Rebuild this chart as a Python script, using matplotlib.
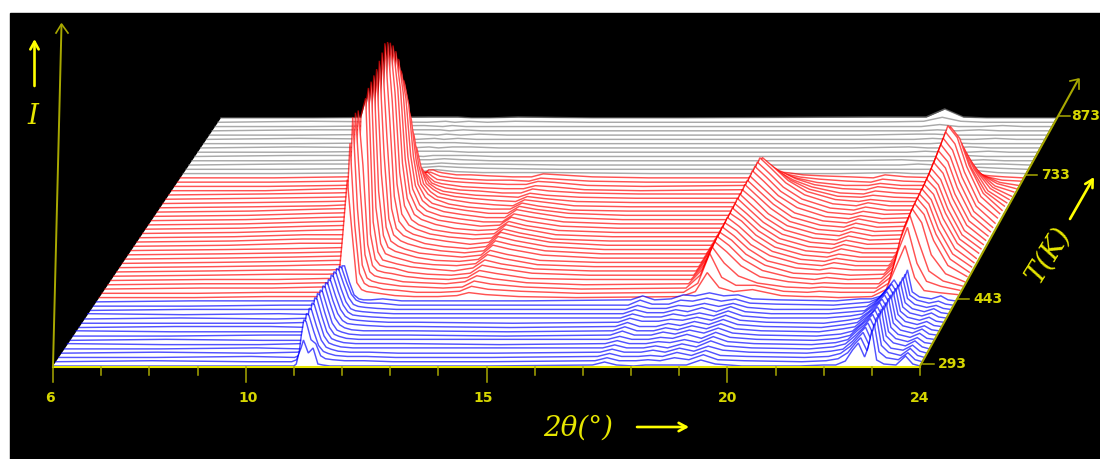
import matplotlib
matplotlib.use('Agg')
import matplotlib.pyplot as plt
from matplotlib.patches import Polygon, Rectangle

# heights in pixels above each trace's baseline
blue_theta = [6, 8, 10, 10.9, 11.0, 11.05, 11.1, 11.15, 11.2, 11.3, 11.4, 11.5, 11.6, 11.75, 12.0, 12.4, 13,
              15, 17.2, 17.45, 17.7, 18.05, 18.3, 18.55, 18.85, 19.15, 19.45, 19.75, 20.3,
              21.5, 22.0, 22.25, 22.45, 22.6, 22.72, 22.85, 22.92, 23.0, 23.1, 23.25, 23.5, 23.7, 23.85, 24]
blue_temps = [293, 303, 313, 323, 333, 343, 353, 363, 373, 383, 393, 403, 413, 423, 433, 443]
blue_traces = [
    [0,0,0,0, 0,2,12,18,26,13,18,2,1,0,0,0,0, 0,1,4,1, 0,1,1,1,1,6,2,0, 0,1,1,5,16,23,9,18,36,6,2,1,10,2,0],
    [0,1,0,0, 2,8,27,42,40,22,18,6,3,2,1,1,0, 0,1,4,1, 1,2,1,4,2,7,2,1, 0,1,3,9,18,24,11,22,38,10,4,2,9,2,0],
    [0,0,1,0, 2,9,29,44,42,26,12,6,4,2,1,1,0, 0,1,4,1, 1,2,1,5,2,7,2,1, 0,1,4,11,19,25,12,24,40,12,5,2,9,2,0],
    [0,1,0,1, 2,9,29,45,43,27,13,6,4,2,1,1,0, 0,1,4,1, 1,3,1,5,2,7,3,1, 0,2,4,12,20,26,12,24,40,13,5,3,8,2,0],
    [0,0,1,0, 2,9,30,46,44,28,13,6,4,2,1,1,1, 1,1,4,1, 1,3,1,5,2,8,3,1, 0,2,5,13,20,26,13,24,40,13,6,3,8,2,0],
    [1,0,0,1, 2,9,31,47,45,28,13,6,4,2,1,1,1, 0,1,4,1, 1,3,2,5,2,8,3,1, 0,2,5,14,20,26,13,24,39,13,6,3,7,2,1],
    [0,1,0,0, 2,9,31,47,45,28,13,6,4,2,1,1,1, 1,1,4,1, 1,3,2,6,2,8,3,1, 0,2,5,14,20,26,13,24,38,13,6,3,7,2,1],
    [0,0,1,1, 2,9,30,46,44,28,13,6,4,2,1,1,1, 0,1,5,1, 1,4,2,6,3,8,3,1, 0,2,5,13,20,26,13,24,38,13,6,3,7,2,1],
    [1,0,0,0, 2,9,30,46,44,28,14,7,4,2,1,1,1, 0,1,5,1, 1,4,2,6,3,8,3,1, 0,3,5,13,19,25,13,24,37,13,6,3,6,2,1],
    [0,1,1,0, 2,9,29,45,43,27,14,7,4,3,2,1,1, 0,1,5,1, 1,4,2,6,3,8,3,1, 0,3,5,13,19,25,13,23,36,13,6,3,6,2,1],
    [0,0,0,1, 2,9,29,44,42,27,14,7,4,3,2,1,1, 0,1,5,2, 2,4,3,6,3,8,3,1, 0,3,5,12,19,24,13,23,35,12,6,3,6,2,1],
    [0,1,0,1, 2,9,29,44,42,27,14,7,4,3,2,1,1, 1,1,5,2, 2,5,3,6,3,8,3,1, 1,3,5,12,18,24,13,22,34,12,6,3,6,2,1],
    [1,0,1,0, 2,9,28,43,41,26,13,6,4,3,2,1,1, 1,1,5,2, 2,5,3,7,3,8,3,1, 1,3,4,11,18,23,12,22,33,12,6,3,6,2,1],
    [0,1,1,1, 2,8,27,42,40,26,13,6,4,3,2,1,1, 1,1,5,2, 2,5,4,7,4,7,3,1, 1,3,4,10,17,23,12,22,33,12,6,3,5,2,1],
    [0,0,1,1, 2,8,26,40,38,24,12,6,4,3,3,1,1, 1,1,6,2, 2,6,5,8,5,7,3,2, 1,3,4,8,16,22,12,21,32,11,6,3,5,2,1],
    [0,1,1,1, 2,7,23,36,36,20,7,3,2,2,3,1,1, 1,2,6,2, 3,7,6,9,6,7,3,2, 1,3,3,6,15,22,12,21,32,10,5,3,6,2,1],
]

red_theta = [6, 8, 9.5, 10.5, 10.9, 11.0, 11.1, 11.2, 11.3, 11.4, 11.5, 11.6, 11.75, 11.9, 12.2, 12.6, 13.1,
             13.5, 13.75, 14.1, 14.8, 16, 18.2, 18.5, 18.75, 19.0, 19.3, 19.7, 20.3, 20.8, 21.05, 21.5,
             22.2, 22.5, 22.7, 22.9, 23.1, 23.3, 23.6, 24]
red_temps = [453, 463, 473, 483, 493, 503, 513, 523, 533, 543, 553, 563, 573, 583, 593,
             603, 613, 623, 633, 643, 653, 663, 673, 683, 693, 703, 713, 723, 733]
red_traces = [
    [0,0,1,1,1, 8,60,118,65,15,8,6,5,4,2,1,1, 2,5,3,1,0, 1,6,25,10,6,8,2,1,1,0, 1,8,30,52,20,7,5,3],
    [0,0,1,1,1, 6,55,150,68,20,10,7,6,4,3,1,1, 2,7,4,2,0, 1,10,40,16,8,8,2,1,2,1, 1,10,42,66,30,12,7,3],
    [0,1,1,2,2, 5,50,172,80,24,11,8,6,5,3,2,1, 2,8,5,2,0, 1,14,42,26,13,6,2,1,2,1, 1,12,50,74,45,18,8,3],
    [0,1,1,2,2, 4,45,172,95,30,13,9,7,6,3,2,1, 3,9,6,2,0, 1,16,43,33,19,8,3,1,2,1, 1,14,54,76,62,30,11,3],
    [0,1,1,2,2, 4,40,170,115,36,15,10,8,7,4,2,1, 3,10,7,2,1, 1,17,44,35,21,10,3,1,3,1, 2,15,55,77,66,40,15,4],
    [0,1,2,2,3, 3,32,160,178,42,17,11,9,8,4,2,1, 3,11,8,3,1, 1,18,44,36,22,11,3,2,3,1, 2,16,56,78,67,42,17,4],
    [0,1,2,2,3, 3,28,150,184,50,20,12,10,8,5,3,1, 4,12,8,3,1, 1,18,45,36,23,11,4,2,4,2, 2,16,56,78,68,43,18,5],
    [0,1,2,3,3, 3,25,130,186,60,24,14,11,9,5,3,2, 4,13,9,3,1, 1,19,45,37,23,12,4,2,5,2, 2,16,57,79,68,44,19,5],
    [0,1,2,3,3, 3,22,110,188,72,28,16,12,10,6,3,2, 4,13,9,3,1, 1,19,46,37,24,12,4,2,5,2, 2,17,57,79,69,45,20,5],
    [0,1,2,3,4, 2,18,90,190,85,32,18,13,10,6,4,2, 4,14,10,4,1, 1,20,46,38,24,12,4,2,5,2, 2,17,58,80,70,46,20,6],
    [0,1,2,3,4, 2,15,75,194,100,36,20,14,11,7,4,2, 4,14,10,4,1, 1,19,47,37,24,12,4,2,6,2, 2,16,58,81,70,46,20,6],
    [0,1,2,3,4, 2,12,60,198,115,42,22,15,12,7,4,2, 4,14,10,4,1, 1,19,47,37,24,12,4,2,6,2, 2,16,59,82,71,47,20,6],
    [0,1,3,3,4, 2,10,50,203,130,50,25,16,12,8,5,2, 4,14,10,4,1, 1,19,48,37,24,12,4,2,6,2, 3,17,60,84,73,48,21,6],
    [0,1,3,3,4, 2,10,45,200,140,58,28,17,13,8,5,3, 4,13,9,3,1, 1,19,48,37,24,12,4,2,6,2, 3,17,61,85,74,48,21,6],
    [0,1,3,3,4, 2,9,40,195,145,65,32,18,13,8,5,3, 4,13,9,3,1, 1,19,48,38,24,12,4,2,6,2, 3,17,63,87,76,50,22,6],
    [0,1,3,4,5, 2,8,35,188,145,70,35,19,14,9,5,3, 4,12,8,3,1, 1,20,49,38,25,12,4,2,6,2, 3,18,64,89,77,51,22,6],
    [0,1,3,4,5, 2,7,30,178,140,70,36,20,14,9,6,3, 4,12,8,3,1, 1,20,49,38,25,12,4,2,6,2, 3,18,66,91,79,52,23,6],
    [0,1,3,4,5, 2,6,25,166,132,68,36,20,14,9,6,3, 3,11,8,3,1, 1,20,49,38,25,12,4,2,6,2, 3,19,67,93,81,53,23,7],
    [0,1,3,4,5, 2,6,22,150,122,65,35,20,14,9,6,3, 3,11,8,3,1, 1,20,50,39,25,13,4,2,5,2, 3,19,68,95,83,54,24,7],
    [0,1,3,4,5, 1,5,20,136,112,60,32,19,13,9,6,3, 3,10,7,3,1, 1,20,50,39,25,13,4,2,5,2, 3,18,65,90,78,51,23,6],
    [0,1,3,4,5, 1,4,16,112,92,52,28,18,13,8,5,3, 3,9,6,2,1, 1,20,50,39,25,13,4,2,5,2, 2,16,56,78,68,44,20,6],
    [0,1,2,4,5, 1,4,14,86,72,42,24,16,11,8,5,3, 2,8,6,2,1, 1,20,50,39,25,13,4,2,5,2, 2,14,50,68,59,39,17,5],
    [0,1,2,3,4, 1,3,10,62,55,34,20,14,10,7,5,3, 2,7,5,2,1, 1,18,46,36,23,12,4,2,4,2, 2,12,42,58,50,33,15,4],
    [0,1,2,3,4, 1,2,8,36,34,24,16,11,8,6,4,3, 2,6,4,2,1, 1,15,38,30,19,10,3,2,4,2, 1,9,34,47,41,27,12,3],
    [0,1,2,3,3, 1,2,6,26,26,18,12,9,7,5,4,2, 2,6,4,2,1, 1,12,30,23,15,8,2,1,4,2, 1,7,27,37,32,21,9,3],
    [0,0,2,2,3, 1,1,5,18,18,13,9,7,6,4,3,2, 2,5,4,1,0, 1,10,24,19,12,6,2,1,4,2, 1,5,19,26,23,15,7,2],
    [0,0,1,2,2, 1,1,4,14,14,10,7,6,5,4,3,2, 2,5,4,1,0, 1,6,16,12,8,4,1,1,3,1, 1,3,12,17,15,10,4,1],
    [0,0,1,2,2, 1,1,3,10,10,8,6,5,4,3,2,2, 1,4,3,1,0, 0,4,10,8,5,3,1,0,3,1, 0,2,7,9,8,5,2,1],
    [0,0,1,1,2, 1,1,3,8,8,6,5,4,3,3,2,1, 1,4,3,1,0, 0,2,6,5,3,2,1,0,3,1, 0,1,3,4,3,2,1,0],
]

grey_theta = [6, 8, 10.5, 10.9, 11.1, 11.4, 11.8, 12.4, 14, 16, 20, 21.2, 21.6, 22, 22.5, 22.95, 23.4, 24]
grey_temps = [743, 753, 763, 773, 783, 793, 803, 813, 823, 833, 843, 853, 863, 873]
grey_traces = [
    [0,0,1,1,2,4,2,1,1,0,0,1,0,0,1,3,1,0],
    [0,0,1,1,2,3,2,1,0,0,0,0,0,0,1,2,1,0],
    [0,1,1,1,1,2,1,1,0,0,0,0,1,0,0,1,1,0],
    [0,0,1,1,1,2,1,0,0,0,0,1,0,0,0,1,0,0],
    [0,1,1,0,1,1,1,0,0,0,0,0,0,0,1,0,0,0],
    [0,0,1,1,1,1,0,0,0,0,0,0,1,0,0,1,0,0],
    [0,1,0,1,0,1,1,0,0,0,0,1,0,0,1,0,0,0],
    [0,0,1,1,1,1,0,0,0,0,0,0,0,1,0,0,0,0],
    [0,1,0,1,0,1,0,0,0,0,0,0,1,0,0,1,0,0],
    [0,0,1,0,1,0,1,0,0,0,0,1,1,0,0,0,0,0],
    [0,1,1,1,0,1,0,0,0,0,0,0,1,0,1,0,0,0],
    [0,0,1,0,1,0,0,0,0,0,0,0,2,0,0,1,0,0],
    [0,1,0,1,0,1,0,1,0,0,0,1,5,1,0,0,0,0],
    [0,0,1,1,1,0,0,1,0,0,1,1,9,1,0,0,0,0],
]

x_ticks = [6, 7, 8, 9, 10, 11, 12, 13, 14, 15, 16, 17, 18, 19, 20, 21, 22, 23, 24]
x_labels = [6, 10, 15, 20, 24]
t_labels = [293, 443, 733, 873]

YELLOW = '#ffff00'
OLIVE = '#a8a800'
LABEL = '#d6d600'


def project(theta, temp, height=0):
    # 2theta / temperature plane to screen pixels
    f = (temp - 293) / 580
    left = 53 + 168 * f
    right = 920 + 136 * f
    return left + (theta - 6) / 18 * (right - left), 366 - 248 * f - height


def draw_trace(ax, theta, temp, values, color, z):
    pts = [project(t, temp, v) for t, v in zip(theta, values)]
    xs = [p[0] for p in pts]
    ys = [p[1] for p in pts]
    base = project(6, temp)[1]
    ax.fill_between(xs, ys, base, color='white', lw=0, zorder=z)
    ax.plot(xs, ys, color=color, lw=1.05, alpha=0.68, zorder=z + 0.5, solid_joinstyle='miter')


def arrow(ax, x0, y0, x1, y1, color, lw):
    ax.annotate('', xy=(x1, y1), xytext=(x0, y0), zorder=200,
                arrowprops=dict(arrowstyle='->,head_length=0.55,head_width=0.3', color=color,
                                lw=lw, shrinkA=0, shrinkB=0))


def main():
    fig = plt.figure(figsize=(11, 4.59), dpi=100, facecolor='white')
    ax = fig.add_axes([0, 0, 1, 1])
    ax.set_xlim(0, 1100)
    ax.set_ylim(459, 0)
    ax.axis('off')
    ax.add_patch(Rectangle((10, 13), 1090, 446, color='black', zorder=0))

    corners = [project(6, 293), project(24, 293), project(24, 873), project(6, 873)]
    ax.add_patch(Polygon(corners, closed=True, color='white', lw=0, zorder=1))

    z = 2
    groups = [(grey_theta, grey_temps, grey_traces, '#808080'),
              (red_theta, red_temps, red_traces, '#ff0000'),
              (blue_theta, blue_temps, blue_traces, '#0000ff')]
    for theta, temps, traces, color in groups:
        for temp, values in sorted(zip(temps, traces), key=lambda p: -p[0]):
            draw_trace(ax, theta, temp, values, color, z)
            z += 1

    # axes
    x0, y0 = project(6, 293)
    x1, y1 = project(24, 293)
    ax.plot([x0, x1], [y0 + 1, y1 + 1], color='#e6e600', lw=1.5, zorder=150)
    for t in x_ticks:
        x, _ = project(t, 293)
        length = 15 if t in x_labels[:4] else 8
        ax.plot([x, x], [367, 367 + length], color=OLIVE, lw=1.1, zorder=150)
    label_shift = {6: -3, 10: 2, 15: -3, 20: 0, 24: 0}
    for t in x_labels:
        x, _ = project(t, 293)
        ax.text(x + label_shift[t], 398, str(t), color=LABEL, fontsize=10, fontweight='bold',
                ha='center', va='center', zorder=150)

    # intensity axis
    ax.plot([53, 61.5], [366, 25], color=OLIVE, lw=1.4, zorder=150)
    ax.plot([56, 61.5, 68], [33, 24, 33], color=OLIVE, lw=1.2, zorder=150)

    # temperature axis
    ax.plot([920, 1078], [366, 80], color=OLIVE, lw=1.5, zorder=150)
    ax.plot([1070, 1079, 1079], [81, 79, 89], color=OLIVE, lw=1.2, zorder=150)
    for t in t_labels:
        x, y = project(24, t)
        ax.plot([x + 3, x + 14], [y - 2.5, y - 2.5], color=OLIVE, lw=1.1, zorder=150)
        ax.text(x + (15 if t == 873 else 18), y - 2.5, str(t), color=LABEL, fontsize=10, fontweight='bold',
                ha='left', va='center', zorder=150)

    # axis titles
    ax.text(33, 117, 'I', color='#e6e600', fontsize=20, style='italic', family='DejaVu Serif',
            ha='center', va='center', zorder=150)
    ax.text(578, 428, '2θ(°)', color='#e6e600', fontsize=20, style='italic', family='DejaVu Serif',
            ha='center', va='center', zorder=150)
    ax.text(1049, 255, 'T(K)', color='#e6e600', fontsize=20, style='italic', family='DejaVu Serif',
            rotation=58, ha='center', va='center', zorder=150)
    arrow(ax, 34.5, 86, 34.5, 39, YELLOW, 1.9)
    arrow(ax, 637, 427, 689, 427, YELLOW, 1.9)
    arrow(ax, 1070, 219, 1094, 177, YELLOW, 1.9)

    fig.savefig('out.png', dpi=100, facecolor='white')


if __name__ == '__main__':
    main()
